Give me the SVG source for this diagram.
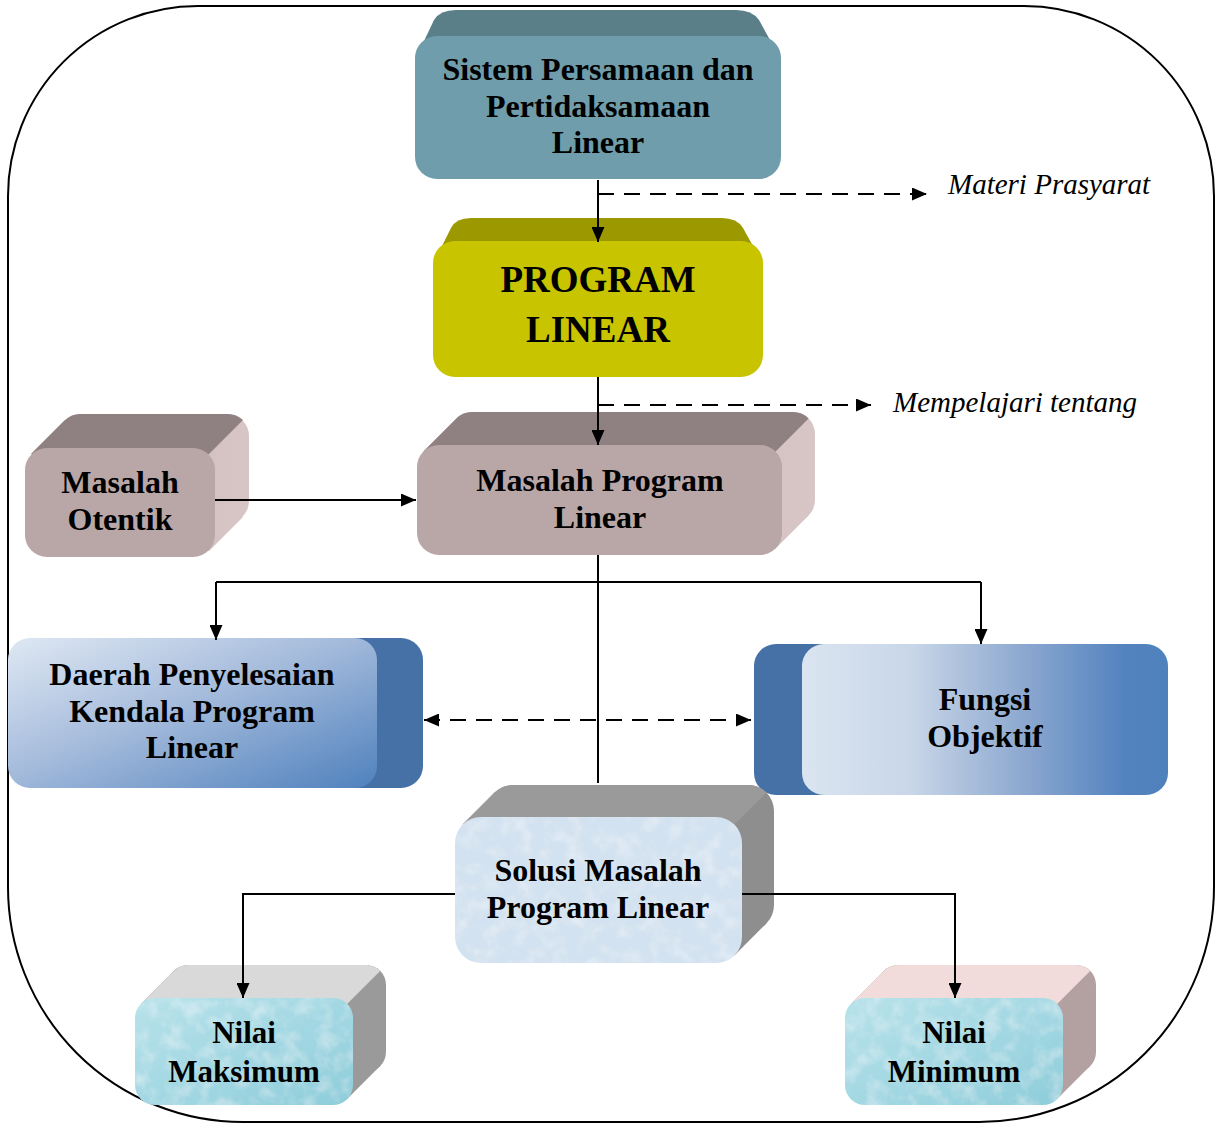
<svg xmlns="http://www.w3.org/2000/svg" width="1216" height="1124" viewBox="0 0 1216 1124">
<style>
.t{font-family:"Liberation Serif","Times New Roman",serif;font-weight:bold;font-size:32px;fill:#000;text-anchor:middle}
.it{font-family:"Liberation Serif","Times New Roman",serif;font-style:italic;font-size:29px;fill:#000}
.ln{fill:none;stroke:#000;stroke-width:2}
.dash{stroke-dasharray:16 10}
</style>
<defs>
<marker id="ah" viewBox="0 0 15 13" refX="15" refY="6.5" markerWidth="15" markerHeight="13" markerUnits="userSpaceOnUse" orient="auto-start-reverse">
<path d="M0,0 L15,6.5 L0,13 Z" fill="#000"/>
</marker>
<linearGradient id="gDaerah" x1="0" y1="0" x2="1" y2="1">
<stop offset="0" stop-color="#dfe8f3"/>
<stop offset="0.45" stop-color="#a6bcdc"/>
<stop offset="1" stop-color="#4f81bd"/>
</linearGradient>
<linearGradient id="gFungsi" x1="0" y1="0" x2="1" y2="0">
<stop offset="0" stop-color="#dbe5f1"/>
<stop offset="0.3" stop-color="#c8d6e8"/>
<stop offset="0.6" stop-color="#8ea9d0"/>
<stop offset="0.88" stop-color="#5383bf"/>
<stop offset="1" stop-color="#4f81bd"/>
</linearGradient>
<linearGradient id="gAqua" x1="0" y1="0" x2="1" y2="1">
<stop offset="0" stop-color="#b8e2ea"/>
<stop offset="0.5" stop-color="#a3d8e3"/>
<stop offset="1" stop-color="#8ecdda"/>
</linearGradient>
<linearGradient id="gMasSide" x1="0" y1="0" x2="1" y2="0">
<stop offset="0" stop-color="#c6b2b2"/>
<stop offset="1" stop-color="#d8c6c6"/>
</linearGradient>
<filter id="tex" x="0" y="0" width="1" height="1">
<feTurbulence type="fractalNoise" baseFrequency="0.06" numOctaves="3" seed="3" result="n"/>
<feColorMatrix in="n" type="matrix" values="0 0 0 0 1  0 0 0 0 1  0 0 0 0 1  0 0 0 0.7 -0.3" result="w"/>
<feComposite in="w" in2="SourceGraphic" operator="in" result="wi"/>
<feMerge><feMergeNode in="SourceGraphic"/><feMergeNode in="wi"/></feMerge>
</filter>
</defs>

<rect width="1216" height="1124" fill="#fff"/>
<path id="frame" class="ln" d="M198,6 L1024,6 A190,190 0 0 1 1214,196 L1214,887 A235,235 0 0 1 979,1122 L243,1122 A235,235 0 0 1 8,887 L8,196 A190,190 0 0 1 198,6 Z"/>

<g id="node-sistem">
<path d="M415,60 L434,20 Q440,10 456,10 L736,10 Q752,10 759,20 L781,60 Z" fill="#5a7f89"/>
<rect x="415" y="36" width="366" height="143" rx="22" fill="#6f9dab"/>
<text class="t" x="598" y="80">Sistem Persamaan dan</text>
<text class="t" x="598" y="117">Pertidaksamaan</text>
<text class="t" x="598" y="153">Linear</text>
</g>

<g id="node-program">
<path d="M433,264 L451,228 Q456,218 471,218 L722,218 Q737,218 743,228 L763,264 Z" fill="#9c9900"/>
<rect x="433" y="241" width="330" height="136" rx="22" fill="#c8c400"/>
<text class="t" x="598" y="292" style="font-size:37px">PROGRAM</text>
<text class="t" x="598" y="342" style="font-size:37px">LINEAR</text>
</g>

<g id="node-otentik">
<rect x="59" y="414" width="190" height="109" rx="22" fill="url(#gMasSide)"/>
<polygon points="31,454 65,420 243,517 209,551" fill="url(#gMasSide)"/>
<path d="M31,454 L65,420 A22,22 0 0 1 81,414 L227,414 A22,22 0 0 1 243,420 L209,454 Z" fill="#8f8181"/>
<rect x="25" y="448" width="190" height="109" rx="22" fill="#b9a7a7"/>
<text class="t" x="120" y="493">Masalah</text>
<text class="t" x="120" y="530">Otentik</text>
</g>

<g id="node-masalah-pl">
<rect x="450" y="412" width="365" height="110" rx="22" fill="url(#gMasSide)"/>
<polygon points="423.4,451.4 456.4,418.4 808.6,515.6 775.6,548.6" fill="url(#gMasSide)"/>
<path d="M423.4,451.4 L456.4,418.4 A22,22 0 0 1 472,412 L793,412 A22,22 0 0 1 808.6,418.4 L775.6,451.4 Z" fill="#8f8181"/>
<rect x="417" y="445" width="365" height="110" rx="22" fill="#b9a7a7"/>
<text class="t" x="600" y="491">Masalah Program</text>
<text class="t" x="600" y="528">Linear</text>
</g>

<g id="node-daerah">
<rect x="330" y="638" width="93" height="150" rx="22" fill="#4671a6"/>
<rect x="8" y="638" width="369" height="150" rx="22" fill="url(#gDaerah)"/>
<text class="t" x="192" y="685">Daerah Penyelesaian</text>
<text class="t" x="192" y="722">Kendala Program</text>
<text class="t" x="192" y="758">Linear</text>
</g>

<g id="node-fungsi">
<rect x="754" y="644" width="100" height="151" rx="22" fill="#4671a6"/>
<rect x="802" y="644" width="366" height="151" rx="22" fill="url(#gFungsi)"/>
<text class="t" x="985" y="710">Fungsi</text>
<text class="t" x="985" y="747">Objektif</text>
</g>

<g id="node-solusi">
<rect x="487" y="785" width="287" height="146" rx="26" fill="#8e8e8e"/>
<polygon points="462.6,824.6 494.6,792.6 766.4,923.4 734.4,955.4" fill="#8e8e8e"/>
<path d="M462.6,824.6 L494.6,792.6 A26,26 0 0 1 513,785 L748,785 A26,26 0 0 1 766.4,792.6 L734.4,824.6 Z" fill="#9a9a9a"/>
<rect x="455" y="817" width="287" height="146" rx="26" fill="#d3e2f0" filter="url(#tex)"/>
<text class="t" x="598" y="881">Solusi Masalah</text>
<text class="t" x="598" y="918">Program Linear</text>
</g>

<g id="node-maks">
<rect x="168" y="965" width="218" height="107" rx="20" fill="#9a9a9a"/>
<polygon points="140.9,1003.9 173.9,970.9 380.1,1066.1 347.1,1099.1" fill="#9a9a9a"/>
<path d="M140.9,1003.9 L173.9,970.9 A20,20 0 0 1 188,965 L366,965 A20,20 0 0 1 380.1,970.9 L347.1,1003.9 Z" fill="#d9d9d9"/>
<rect x="135" y="998" width="218" height="107" rx="20" fill="url(#gAqua)" filter="url(#tex)"/>
<text class="t" x="244" y="1043" style="font-size:31px">Nilai</text>
<text class="t" x="244" y="1082" style="font-size:31px">Maksimum</text>
</g>

<g id="node-min">
<rect x="878" y="965" width="218" height="107" rx="20" fill="#b3a0a0"/>
<polygon points="850.9,1003.9 883.9,970.9 1090.1,1066.1 1057.1,1099.1" fill="#b3a0a0"/>
<path d="M850.9,1003.9 L883.9,970.9 A20,20 0 0 1 898,965 L1076,965 A20,20 0 0 1 1090.1,970.9 L1057.1,1003.9 Z" fill="#f2dcdb"/>
<rect x="845" y="998" width="218" height="107" rx="20" fill="url(#gAqua)" filter="url(#tex)"/>
<text class="t" x="954" y="1043" style="font-size:31px">Nilai</text>
<text class="t" x="954" y="1082" style="font-size:31px">Minimum</text>
</g>

<g id="connectors">
<path class="ln" d="M598,180 L598,242" marker-end="url(#ah)"/>
<path class="ln dash" d="M598,194 L927,194" marker-end="url(#ah)"/>
<path class="ln" d="M598,377 L598,445" marker-end="url(#ah)"/>
<path class="ln dash" d="M598,405 L871,405" marker-end="url(#ah)"/>
<path class="ln" d="M215,500 L416,500" marker-end="url(#ah)"/>
<path class="ln" d="M598,555 L598,783"/>
<path class="ln" d="M216,582 L981,582"/>
<path class="ln" d="M216,582 L216,640" marker-end="url(#ah)"/>
<path class="ln" d="M981,582 L981,644" marker-end="url(#ah)"/>
<path class="ln dash" d="M424,720 L751,720" marker-start="url(#ah)" marker-end="url(#ah)"/>
<path class="ln" d="M455,894 L243,894 L243,998" marker-end="url(#ah)"/>
<path class="ln" d="M742,894 L955,894 L955,998" marker-end="url(#ah)"/>
</g>

<text class="it" x="948" y="194">Materi Prasyarat</text>
<text class="it" x="893" y="412">Mempelajari tentang</text>
</svg>
